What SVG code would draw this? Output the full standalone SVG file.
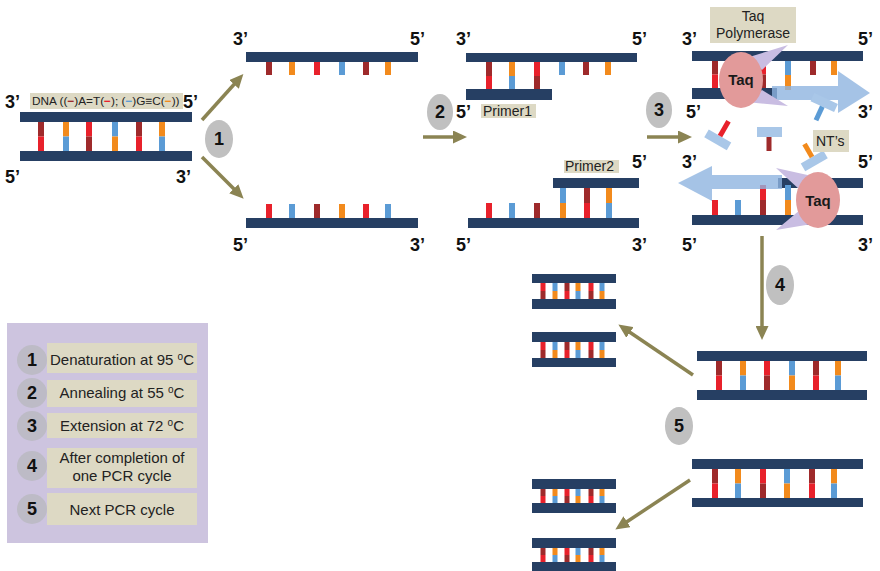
<svg xmlns="http://www.w3.org/2000/svg" width="880" height="571" viewBox="0 0 880 571">
  <defs>
    <marker id="head" markerUnits="userSpaceOnUse" markerWidth="15" markerHeight="13" refX="6" refY="6.5" orient="auto">
      <path d="M0,0 L14,6.5 L0,13 z" fill="#8b8453"/>
    </marker>
    <style>
      .s{fill:#263f63}
      .m{fill:#9e2a2b}
      .r{fill:#e8212b}
      .o{fill:#f28a1c}
      .b{fill:#5b9bd5}
      .nt{fill:#a9c7e8}
      .arw{stroke:#8b8453;stroke-width:3.5;fill:none;marker-end:url(#head)}
      .end{font:bold 18px "Liberation Sans",Arial,sans-serif;fill:#111}
      .step{fill:#c0c0c0}
      .num{font:bold 18px "Liberation Sans",Arial,sans-serif;fill:#111;text-anchor:middle}
      .tag{fill:#ddd9c4}
      .tt{font:14px "Liberation Sans",Arial,sans-serif;fill:#222}
      .lt{font:15px "Liberation Sans",Arial,sans-serif;fill:#222;text-anchor:middle}
      .ext{fill:#8fb4e0;opacity:0.8}
      .clamp{fill:#c9bde2}
      .taq{fill:#e29a9a}
      .taqt{font:bold 15px "Liberation Sans",Arial,sans-serif;fill:#1a1a1a;text-anchor:middle}
    </style>
  </defs>

  <!-- starting double strand -->
  <g id="dna-start">
    <rect class="tag" x="30" y="93" width="153" height="16"/>
    <text x="32" y="105" style="font:11.8px 'Liberation Sans',Arial,sans-serif;fill:#222">DNA ((<tspan class="m" font-weight="bold">−</tspan>)A=T(<tspan class="r" font-weight="bold">−</tspan>); (<tspan class="b" font-weight="bold">−</tspan>)G≡C(<tspan class="o" font-weight="bold">−</tspan>))</text>
    <rect class="s" x="20" y="112" width="172" height="10"/>
    <rect class="s" x="20" y="151" width="172" height="10"/>
    <rect class="m" x="38" y="122" width="6" height="14.5"/><rect class="r" x="38" y="136.5" width="6" height="14.5"/>
    <rect class="o" x="63" y="122" width="6" height="14.5"/><rect class="b" x="63" y="136.5" width="6" height="14.5"/>
    <rect class="r" x="86" y="122" width="6" height="14.5"/><rect class="m" x="86" y="136.5" width="6" height="14.5"/>
    <rect class="b" x="112" y="122" width="6" height="14.5"/><rect class="o" x="112" y="136.5" width="6" height="14.5"/>
    <rect class="m" x="136" y="122" width="6" height="14.5"/><rect class="r" x="136" y="136.5" width="6" height="14.5"/>
    <rect class="o" x="159" y="122" width="6" height="14.5"/><rect class="b" x="159" y="136.5" width="6" height="14.5"/>
    <text class="end" x="5" y="108">3’</text>
    <text class="end" x="183" y="108">5’</text>
    <text class="end" x="5" y="183">5’</text>
    <text class="end" x="176" y="183">3’</text>
  </g>

  <!-- after denaturation: upper single strand -->
  <g id="single-upper">
    <rect class="s" x="246" y="52" width="172" height="10"/>
    <rect class="m" x="266" y="62" width="6" height="13"/>
    <rect class="o" x="289" y="62" width="6" height="13"/>
    <rect class="r" x="314" y="62" width="6" height="13"/>
    <rect class="b" x="339" y="62" width="6" height="13"/>
    <rect class="m" x="363" y="62" width="6" height="13"/>
    <rect class="o" x="385" y="62" width="6" height="13"/>
    <text class="end" x="233" y="45">3’</text>
    <text class="end" x="410" y="45">5’</text>
  </g>

  <!-- after denaturation: lower single strand -->
  <g id="single-lower">
    <rect class="s" x="246" y="218" width="172" height="10"/>
    <rect class="r" x="266" y="204" width="6" height="14"/>
    <rect class="b" x="289" y="204" width="6" height="14"/>
    <rect class="m" x="314" y="204" width="6" height="14"/>
    <rect class="o" x="339" y="204" width="6" height="14"/>
    <rect class="r" x="363" y="204" width="6" height="14"/>
    <rect class="b" x="385" y="204" width="6" height="14"/>
    <text class="end" x="233" y="251">5’</text>
    <text class="end" x="410" y="251">3’</text>
  </g>

  <!-- annealing: primer 1 -->
  <g id="anneal-upper">
    <rect class="s" x="466" y="53" width="171" height="9"/>
    <rect class="s" x="466" y="89" width="86" height="11"/>
    <rect class="m" x="486" y="62" width="6" height="14"/><rect class="r" x="486" y="76" width="6" height="13"/>
    <rect class="o" x="509" y="62" width="6" height="14"/><rect class="b" x="509" y="76" width="6" height="13"/>
    <rect class="r" x="534" y="62" width="6" height="14"/><rect class="m" x="534" y="76" width="6" height="13"/>
    <rect class="b" x="559" y="62" width="6" height="13"/>
    <rect class="m" x="583" y="62" width="6" height="13"/>
    <rect class="o" x="605" y="62" width="6" height="13"/>
    <rect class="tag" x="481" y="104" width="55" height="14"/>
    <text class="tt" x="483" y="116">Primer1</text>
    <text class="end" x="456" y="45">3’</text>
    <text class="end" x="632" y="45">5’</text>
    <text class="end" x="456" y="118">5’</text>
  </g>

  <!-- annealing: primer 2 -->
  <g id="anneal-lower">
    <rect class="s" x="553" y="178" width="86" height="10"/>
    <rect class="s" x="468" y="218" width="171" height="10"/>
    <rect class="r" x="486" y="203" width="6" height="15"/>
    <rect class="b" x="509" y="203" width="6" height="15"/>
    <rect class="m" x="534" y="203" width="6" height="15"/>
    <rect class="b" x="560" y="188" width="6" height="15"/><rect class="o" x="560" y="203" width="6" height="15"/>
    <rect class="m" x="584" y="188" width="6" height="15"/><rect class="r" x="584" y="203" width="6" height="15"/>
    <rect class="o" x="606" y="188" width="6" height="15"/><rect class="b" x="606" y="203" width="6" height="15"/>
    <rect class="tag" x="564" y="160" width="55" height="13"/>
    <text class="tt" x="565" y="171">Primer2</text>
    <text class="end" x="632" y="168">5’</text>
    <text class="end" x="456" y="251">5’</text>
    <text class="end" x="632" y="251">3’</text>
  </g>

  <!-- extension: upper template -->
  <g id="extend-upper">
    <rect class="tag" x="710" y="7" width="86" height="36"/>
    <text class="tt" x="753" y="21" text-anchor="middle">Taq</text>
    <text class="tt" x="753" y="38" text-anchor="middle">Polymerase</text>
    <rect class="s" x="692" y="51" width="171" height="10"/>
    <rect class="s" x="692" y="88" width="85" height="11"/>
    <rect class="m" x="712" y="61" width="6" height="13.5"/><rect class="r" x="712" y="74.5" width="6" height="13.5"/>
    <rect class="r" x="760" y="61" width="6" height="13.5"/><rect class="m" x="760" y="74.5" width="6" height="13.5"/>
    <rect class="b" x="785" y="61" width="6" height="14"/><rect class="o" x="785" y="75" width="6" height="15"/>
    <rect class="m" x="810" y="61" width="6" height="14"/>
    <rect class="o" x="831" y="61" width="6" height="14"/>
    <polygon class="ext" points="772,86 838,86 838,71 870,93 838,113 838,100 772,100"/>
    <polygon class="clamp" points="746,58 788,45 762,70"/>
    <polygon class="clamp" points="762,90 788,106 746,102"/>
    <ellipse class="taq" cx="741" cy="80" rx="22" ry="28"/>
    <text class="taqt" x="741" y="85">Taq</text>
    <text class="end" x="682" y="45">3’</text>
    <text class="end" x="858" y="45">5’</text>
    <text class="end" x="686" y="118">5’</text>
    <text class="end" x="858" y="118">3’</text>
  </g>

  <!-- free nucleotides -->
  <g id="nucleotides">
    <g transform="translate(720,136) rotate(30)">
      <rect class="nt" x="-13" y="0" width="26" height="9"/>
      <rect class="r" x="-2.5" y="-17" width="5" height="17"/>
    </g>
    <rect class="nt" x="757" y="127" width="25" height="10"/>
    <rect class="m" x="766.5" y="137" width="5" height="14"/>
    <g transform="translate(824,103) rotate(25)">
      <rect class="nt" x="-13" y="-5" width="26" height="9"/>
      <rect class="b" x="-2.5" y="4" width="5" height="15"/>
    </g>
    <g transform="translate(812,157) rotate(-30)">
      <rect class="nt" x="-13" y="0" width="26" height="9"/>
      <rect class="o" x="-2.5" y="-15" width="5" height="15"/>
    </g>
    <rect class="tag" x="813" y="130" width="36" height="22"/>
    <text class="tt" x="816" y="146">NT’s</text>
  </g>

  <!-- extension: lower template -->
  <g id="extend-lower">
    <rect class="s" x="778" y="178" width="85" height="10"/>
    <rect class="s" x="692" y="215" width="171" height="10"/>
    <rect class="r" x="712" y="200" width="6" height="15"/>
    <rect class="b" x="735" y="200" width="6" height="15"/>
    <rect class="r" x="760" y="185" width="6" height="15"/><rect class="m" x="760" y="200" width="6" height="15"/>
    <rect class="b" x="785" y="185" width="6" height="15"/><rect class="o" x="785" y="200" width="6" height="15"/>
    <polygon class="ext" points="782,175 712,175 712,166 678,183 712,201 712,189 782,189"/>
    <polygon class="clamp" points="812,176 776,168 800,190"/>
    <polygon class="clamp" points="800,210 776,230 812,224"/>
    <ellipse class="taq" cx="818" cy="200" rx="22" ry="28"/>
    <text class="taqt" x="818" y="206">Taq</text>
    <text class="end" x="682" y="168">3’</text>
    <text class="end" x="858" y="168">5’</text>
    <text class="end" x="682" y="251">5’</text>
    <text class="end" x="858" y="251">3’</text>
  </g>

  <!-- one completed cycle -->
  <g id="cycle-one">
    <rect class="s" x="697" y="351" width="170" height="10"/>
    <rect class="s" x="697" y="390" width="170" height="10"/>
    <rect class="m" x="716" y="361" width="6" height="14.5"/><rect class="r" x="716" y="375.5" width="6" height="14.5"/>
    <rect class="o" x="740" y="361" width="6" height="14.5"/><rect class="b" x="740" y="375.5" width="6" height="14.5"/>
    <rect class="r" x="764" y="361" width="6" height="14.5"/><rect class="m" x="764" y="375.5" width="6" height="14.5"/>
    <rect class="b" x="789" y="361" width="6" height="14.5"/><rect class="o" x="789" y="375.5" width="6" height="14.5"/>
    <rect class="m" x="813" y="361" width="6" height="14.5"/><rect class="r" x="813" y="375.5" width="6" height="14.5"/>
    <rect class="o" x="835" y="361" width="6" height="14.5"/><rect class="b" x="835" y="375.5" width="6" height="14.5"/>
  </g>

  <!-- copies from cycle one -->
  <g id="copy-a">
    <rect class="s" x="532" y="274" width="84" height="9"/>
    <rect class="s" x="532" y="299" width="84" height="10"/>
    <rect class="r" x="540.5" y="283" width="5" height="8"/><rect class="m" x="540.5" y="291" width="5" height="8"/>
    <rect class="b" x="552.5" y="283" width="5" height="8"/><rect class="o" x="552.5" y="291" width="5" height="8"/>
    <rect class="m" x="564.5" y="283" width="5" height="8"/><rect class="r" x="564.5" y="291" width="5" height="8"/>
    <rect class="o" x="575.5" y="283" width="5" height="8"/><rect class="b" x="575.5" y="291" width="5" height="8"/>
    <rect class="r" x="588.5" y="283" width="5" height="8"/><rect class="m" x="588.5" y="291" width="5" height="8"/>
    <rect class="b" x="599.5" y="283" width="5" height="8"/><rect class="o" x="599.5" y="291" width="5" height="8"/>
  </g>
  <g id="copy-b">
    <rect class="s" x="532" y="332" width="84" height="10"/>
    <rect class="s" x="532" y="358" width="84" height="9"/>
    <rect class="r" x="540.5" y="342" width="5" height="8"/><rect class="m" x="540.5" y="350" width="5" height="8"/>
    <rect class="b" x="552.5" y="342" width="5" height="8"/><rect class="o" x="552.5" y="350" width="5" height="8"/>
    <rect class="m" x="564.5" y="342" width="5" height="8"/><rect class="r" x="564.5" y="350" width="5" height="8"/>
    <rect class="o" x="575.5" y="342" width="5" height="8"/><rect class="b" x="575.5" y="350" width="5" height="8"/>
    <rect class="r" x="588.5" y="342" width="5" height="8"/><rect class="m" x="588.5" y="350" width="5" height="8"/>
    <rect class="b" x="599.5" y="342" width="5" height="8"/><rect class="o" x="599.5" y="350" width="5" height="8"/>
  </g>

  <!-- next cycle -->
  <g id="cycle-next">
    <rect class="s" x="692" y="459" width="171" height="10"/>
    <rect class="s" x="692" y="498" width="171" height="9"/>
    <rect class="m" x="712" y="469" width="6" height="14.5"/><rect class="r" x="712" y="483.5" width="6" height="14.5"/>
    <rect class="o" x="735" y="469" width="6" height="14.5"/><rect class="b" x="735" y="483.5" width="6" height="14.5"/>
    <rect class="r" x="760" y="469" width="6" height="14.5"/><rect class="m" x="760" y="483.5" width="6" height="14.5"/>
    <rect class="b" x="784" y="469" width="6" height="14.5"/><rect class="o" x="784" y="483.5" width="6" height="14.5"/>
    <rect class="m" x="809" y="469" width="6" height="14.5"/><rect class="r" x="809" y="483.5" width="6" height="14.5"/>
    <rect class="o" x="831" y="469" width="6" height="14.5"/><rect class="b" x="831" y="483.5" width="6" height="14.5"/>
  </g>

  <g id="copy-c">
    <rect class="s" x="532" y="479" width="84" height="10"/>
    <rect class="s" x="532" y="503" width="84" height="10"/>
    <rect class="m" x="540.5" y="489" width="5" height="7"/><rect class="r" x="540.5" y="496" width="5" height="7"/>
    <rect class="o" x="552.5" y="489" width="5" height="7"/><rect class="b" x="552.5" y="496" width="5" height="7"/>
    <rect class="r" x="564.5" y="489" width="5" height="7"/><rect class="m" x="564.5" y="496" width="5" height="7"/>
    <rect class="b" x="575.5" y="489" width="5" height="7"/><rect class="o" x="575.5" y="496" width="5" height="7"/>
    <rect class="m" x="588.5" y="489" width="5" height="7"/><rect class="r" x="588.5" y="496" width="5" height="7"/>
    <rect class="o" x="599.5" y="489" width="5" height="7"/><rect class="b" x="599.5" y="496" width="5" height="7"/>
  </g>
  <g id="copy-d">
    <rect class="s" x="532" y="538" width="84" height="10"/>
    <rect class="s" x="532" y="562" width="84" height="10"/>
    <rect class="m" x="540.5" y="548" width="5" height="7"/><rect class="r" x="540.5" y="555" width="5" height="7"/>
    <rect class="o" x="552.5" y="548" width="5" height="7"/><rect class="b" x="552.5" y="555" width="5" height="7"/>
    <rect class="r" x="564.5" y="548" width="5" height="7"/><rect class="m" x="564.5" y="555" width="5" height="7"/>
    <rect class="b" x="575.5" y="548" width="5" height="7"/><rect class="o" x="575.5" y="555" width="5" height="7"/>
    <rect class="m" x="588.5" y="548" width="5" height="7"/><rect class="r" x="588.5" y="555" width="5" height="7"/>
    <rect class="o" x="599.5" y="548" width="5" height="7"/><rect class="b" x="599.5" y="555" width="5" height="7"/>
  </g>

  <!-- step connectors -->
  <g id="connectors">
    <line class="arw" x1="202" y1="120" x2="238" y2="80"/>
    <line class="arw" x1="202" y1="157" x2="238" y2="193"/>
    <line class="arw" x1="423" y1="137" x2="459" y2="137"/>
    <line class="arw" x1="647" y1="137" x2="684" y2="137"/>
    <line class="arw" x1="762" y1="236" x2="762" y2="332"/>
    <line class="arw" x1="693" y1="375" x2="625" y2="329"/>
    <line class="arw" x1="690" y1="480" x2="622" y2="525"/>
  </g>

  <!-- step badges -->
  <g id="step-1"><ellipse class="step" cx="219" cy="139" rx="14" ry="19"/><text class="num" x="219" y="145">1</text></g>
  <g id="step-2"><ellipse class="step" cx="440" cy="112" rx="13" ry="18"/><text class="num" x="440" y="118">2</text></g>
  <g id="step-3"><ellipse class="step" cx="659" cy="110" rx="13" ry="18"/><text class="num" x="659" y="116">3</text></g>
  <g id="step-4"><ellipse class="step" cx="780" cy="285" rx="14" ry="20"/><text class="num" x="780" y="291">4</text></g>
  <g id="step-5"><ellipse class="step" cx="679" cy="426" rx="14" ry="19"/><text class="num" x="679" y="432">5</text></g>

  <!-- legend -->
  <g id="legend">
    <rect x="7" y="323" width="201" height="220" fill="#cdc4df"/>
    <g fill="#bdbbc6">
      <ellipse cx="32" cy="360" rx="15" ry="15"/>
      <ellipse cx="32" cy="393" rx="15" ry="15"/>
      <ellipse cx="32" cy="426" rx="15" ry="15"/>
      <ellipse cx="32" cy="466" rx="15" ry="15"/>
      <ellipse cx="32" cy="509" rx="15" ry="15"/>
    </g>
    <rect class="tag" x="47" y="343" width="150" height="30"/>
    <rect class="tag" x="47" y="380" width="150" height="27"/>
    <rect class="tag" x="47" y="413" width="150" height="25"/>
    <rect class="tag" x="47" y="448" width="150" height="40"/>
    <rect class="tag" x="47" y="493" width="150" height="32"/>
    <text class="num" x="32" y="366">1</text>
    <text class="num" x="32" y="399">2</text>
    <text class="num" x="32" y="432">3</text>
    <text class="num" x="32" y="472">4</text>
    <text class="num" x="32" y="515">5</text>
    <text class="lt" x="122" y="365">Denaturation at 95 <tspan font-size="10" dy="-5">o</tspan><tspan dy="5">C</tspan></text>
    <text class="lt" x="122" y="398">Annealing at 55 <tspan font-size="10" dy="-5">o</tspan><tspan dy="5">C</tspan></text>
    <text class="lt" x="122" y="431">Extension at 72 <tspan font-size="10" dy="-5">o</tspan><tspan dy="5">C</tspan></text>
    <text class="lt" x="122" y="463">After completion of</text>
    <text class="lt" x="122" y="481">one PCR cycle</text>
    <text class="lt" x="122" y="515">Next PCR cycle</text>
  </g>
</svg>
